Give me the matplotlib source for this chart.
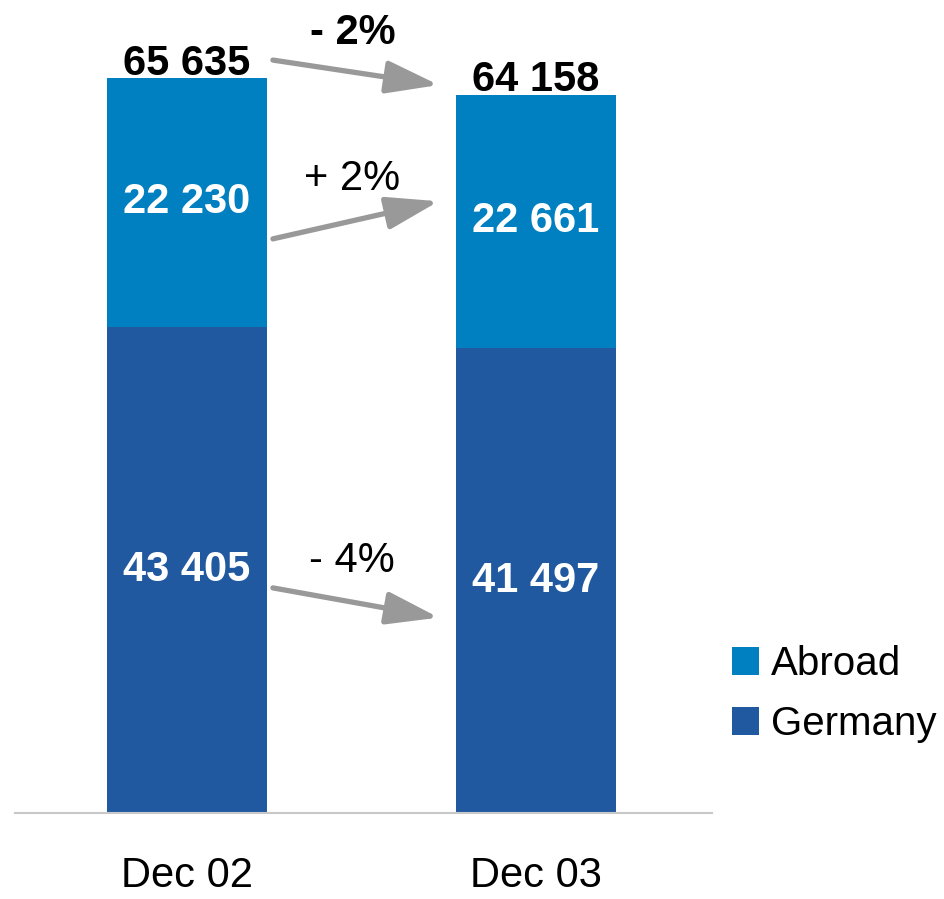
import numpy as np
import matplotlib.pyplot as plt

plt.rcParams['font.family'] = ['Liberation Sans', 'DejaVu Sans']

# Data
periods = ['Dec 02', 'Dec 03']
germany = [43405, 41497]
abroad = [22230, 22661]
totals = [g + a for g, a in zip(germany, abroad)]
changes = ['- 2%', '+ 2%', '- 4%']

col_abroad = '#0080C0'
col_germany = '#2159A0'
col_arrow = '#999999'
fs = 30

def fmt(v):
    return f"{v:,}".replace(',', ' ')

fig = plt.figure(figsize=(9.45, 8.99), dpi=100)
ax = fig.add_axes([15 / 945, 86 / 899, 697 / 945, 813 / 899])

x = np.arange(len(periods))
w = 0.458
ax.bar(x, germany, w, color=col_germany, label='Germany')
ax.bar(x, abroad, w, bottom=germany, color=col_abroad, label='Abroad')

ax.set_xlim(-0.493, 1.504)
ax.set_ylim(0, 72600)

# segment labels
for i in range(len(x)):
    ax.text(x[i], germany[i] / 2, fmt(germany[i]), ha='center', va='center',
            color='white', fontsize=fs, fontweight='bold')
    ax.text(x[i], germany[i] + abroad[i] / 2, fmt(abroad[i]), ha='center', va='center',
            color='white', fontsize=fs, fontweight='bold')
    ax.text(x[i], totals[i] + 300, fmt(totals[i]), ha='center', va='baseline',
            color='black', fontsize=fs, fontweight='bold')

# change arrows
x0, x1 = x[0] + w / 2 + 0.017, x[1] - w / 2 - 0.05
arrows = [
    (totals[0] + 1600, totals[1] + 850, totals[0] + 4000, True),
    (germany[0] + abroad[0] / 2 - 3250, germany[1] + abroad[1] / 2 + 1800, germany[0] + abroad[0] / 2 + 2100, False),
    (germany[0] / 2 - 1600, germany[1] / 2 - 3300, germany[0] / 2 + 800, False),
]
for (ys, ye, yt, bold), lab in zip(arrows, changes):
    ax.annotate('', xy=(x1, ye), xytext=(x0, ys),
                arrowprops=dict(arrowstyle='-|>,head_length=3.2,head_width=1.0',
                                color=col_arrow, lw=3.8, capstyle='round',
                                shrinkA=0, shrinkB=0))
    ax.text((x0 + x1) / 2 - 0.01, yt, lab, ha='center', va='center', fontsize=fs,
            fontweight='bold' if bold else 'normal', color='black')

# axes styling
for s in ['top', 'right', 'left']:
    ax.spines[s].set_visible(False)
ax.spines['bottom'].set_color('#C8C8C8')
ax.spines['bottom'].set_linewidth(1.5)
ax.set_yticks([])
ax.set_xticks(x)
ax.set_xticklabels(periods, fontsize=fs)
ax.tick_params(axis='x', length=0, pad=31)

h, l = ax.get_legend_handles_labels()
fig.legend(h[::-1], l[::-1], loc='upper left', bbox_to_anchor=(716 / 945, 1 - 629 / 899),
           frameon=False, fontsize=29, handlelength=0.67, handleheight=0.67,
           handletextpad=0.3, labelspacing=0.55, borderaxespad=0)

fig.savefig('out.png', dpi=100)
